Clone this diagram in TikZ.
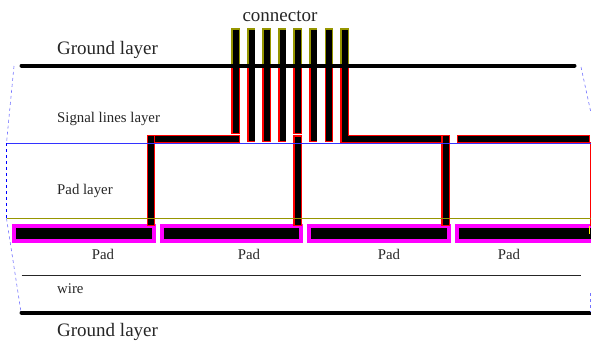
\documentclass[tikz,border=0pt]{standalone}
\usepackage{fontspec}
\setmainfont{Liberation Serif}
\definecolor{magenta}{RGB}{255,0,255}
\definecolor{pinolive}{RGB}{150,150,0}
\tikzset{
  x=1pt,y=-1pt,
  big/.style={inner sep=0pt,font=\fontsize{19}{21}\selectfont,text=black!85},
  small/.style={inner sep=0pt,font=\fontsize{14.8}{17}\selectfont,text=black!85},
  pad/.style={fill=black,draw=magenta,line width=4pt},
  ground/.style={line width=4pt,line cap=round},
  sidedash/.style={draw=blue!55,line width=.6pt,dashed},
}
% box with a coloured rim: #1 colour, then x1,y1,x2,y2
\newcommand{\rimbox}[5]{%
  \fill[#1] (#2,#3) rectangle (#4,#5);
  \fill[black] (#2+1.7,#3+1.7) rectangle (#4-0.6,#5-0.6);
}
\newcommand{\halobox}[4]{\fill[white] (#1-1.5,#2) rectangle (#3+1.5,#4+1.5);}
\begin{document}
\begin{tikzpicture}
\useasboundingbox (0,0) rectangle (591,341);
% pads
\draw[pad] (14,226) rectangle (154,241);
\draw[pad] (162,226) rectangle (301,241);
\draw[pad] (309,226) rectangle (449,241);
\draw[pad] (457,226) rectangle (595,241);
% connector pins (upper part)
\foreach \c in {235.3,251,266.5,282,297.5,313,328.7,344.3}{
  \rimbox{pinolive}{\c-4.2}{28}{\c+4.2}{67}
}
% signal traces
\foreach \c in {251,266.5,282,313,328.7}{
  \halobox{\c-4.2}{67}{\c+4.2}{141.5}
  \rimbox{red}{\c-4.2}{66}{\c+4.2}{141.5}
}
\halobox{231}{67}{239.5}{134}
\rimbox{red}{231}{66}{239.5}{133.5}
\fill[white] (145.5,133.5) rectangle (241,143);
\rimbox{red}{146.5}{134.5}{240}{142.5}
\rimbox{red}{146.5}{134.5}{155}{225.5}
\fill[black] (148.2,136.2) rectangle (154.4,141.9);
\halobox{293.3}{67}{301.7}{133.5}
\rimbox{red}{293.3}{66}{301.7}{133.5}
\rimbox{red}{293.3}{135}{301.7}{225.5}
\halobox{340}{67}{348.5}{143}
\fill[white] (338.5,133.5) rectangle (451,143);
\rimbox{red}{340}{66}{348.5}{135.5}
\rimbox{red}{340}{134.5}{450}{142.5}
\fill[black] (341.7,130) rectangle (347.9,141.9);
\rimbox{red}{441.3}{134.5}{449.7}{225.5}
\fill[black] (443,136.2) rectangle (449.1,141.9);
\fill[white] (455,133.5) rectangle (591,143);
\rimbox{red}{456.5}{134.5}{590}{142.5}
\fill[red] (589.6,142) rectangle (591,225.5);
\fill[yellow] (589,226) rectangle (590,234);
% layer boundaries
\draw[blue!80,line width=1pt] (6.5,143) -- (591,143);
\draw[pinolive,line width=.8pt] (6.5,218.5) -- (591,218.5);
% ground and wire
\draw[ground] (21.5,65.5) -- (574.5,65.5);
\draw[ground] (21.5,312.5) -- (595,312.5);
\draw[line width=.8pt,black!85] (21.5,275) -- (581,275);
% side outline
\draw[sidedash] (14,66) -- (6.5,143);
\draw[draw=blue,line width=.7pt,dashed] (6.5,143) -- (6.5,218.5);
\draw[sidedash] (6.5,218.5) -- (21,312);
\draw[sidedash] (581,67) -- (591,113);
\draw[sidedash] (590.5,293) -- (590.5,312);
% labels
\node[big] (connector) at (280,16) {connector};
\node[big,anchor=west] (gtop) at (57,50) {Ground layer};
\node[big,anchor=west] (gbot) at (57,332) {Ground layer};
\node[small,anchor=west] (sig) at (57,119) {Signal lines layer};
\node[small,anchor=west] (padl) at (57,190.5) {Pad layer};
\node[small] (p1) at (103,254) {Pad};
\node[small] (p2) at (249,254) {Pad};
\node[small] (p3) at (389,254) {Pad};
\node[small] (p4) at (509,254) {Pad};
\node[small,anchor=west] (wire) at (57,289) {wire};
\end{tikzpicture}
\end{document}
